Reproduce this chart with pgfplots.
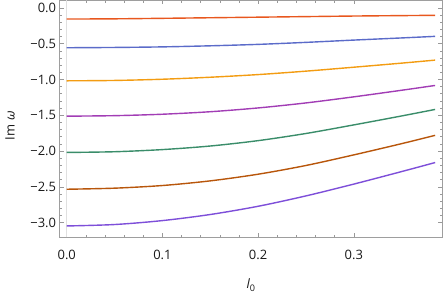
\documentclass[border=0pt]{standalone}
\usepackage{fontspec}
\setmainfont{Open Sans}
\usepackage{pgfplots}
\usepackage{pgfplotstable}
\pgfplotsset{compat=1.18}
\definecolor{cA}{HTML}{E8571E}
\definecolor{cB}{HTML}{5B6BC9}
\definecolor{cC}{HTML}{F39C12}
\definecolor{cD}{HTML}{A23DB5}
\definecolor{cE}{HTML}{3A8D6A}
\definecolor{cF}{HTML}{B8560B}
\definecolor{cG}{HTML}{7E4FD9}
\pgfplotstableread{
x      a       b       c       d       e       f       g
0.000 -0.156  -0.557  -1.019  -1.513  -2.020  -2.534  -3.047
0.050 -0.153  -0.553  -1.014  -1.506  -2.010  -2.519  -3.027
0.100 -0.146  -0.545  -0.997  -1.486  -1.980  -2.482  -2.972
0.150 -0.138  -0.530  -0.969  -1.451  -1.930  -2.417  -2.887
0.200 -0.130  -0.510  -0.932  -1.398  -1.855  -2.324  -2.772
0.250 -0.122  -0.482  -0.884  -1.328  -1.755  -2.202  -2.627
0.300 -0.114  -0.450  -0.829  -1.243  -1.635  -2.054  -2.462
0.350 -0.108  -0.420  -0.772  -1.151  -1.510  -1.897  -2.287
0.385 -0.104  -0.398  -0.730  -1.084  -1.419  -1.781  -2.161
}\datatable
\begin{document}
\begin{tikzpicture}
\begin{axis}[
  scale only axis, width=382.5bp, height=237bp,
  xmin=-0.0075, xmax=0.3927, ymin=-3.205, ymax=0.11,
  axis line style={draw=black!38, line width=0.7bp},
  tick style={black!40, line width=0.6bp},
  major tick length=4bp, minor tick length=2.5bp,
  tick align=inside,
  xtick={0,0.1,0.2,0.3}, xticklabels={0.0,0.1,0.2,0.3},
  minor x tick num=4,
  ytick={-3,-2.5,-2,-1.5,-1,-0.5,0},
  yticklabels={−3.0,−2.5,−2.0,−1.5,−1.0,−0.5,0.0},
  minor y tick num=4,
  extra x ticks={0}, extra x tick labels={},
  extra x tick style={grid=major, major grid style={black!12, line width=0.6bp}, major tick length=0pt},
  ticklabel style={font=\fontsize{13}{15}\selectfont, text=black!90},
  xticklabel style={yshift=-9bp},
  xlabel={{\itshape l}\textsubscript{0}},
  ylabel={Im {\itshape ω}},
  label style={font=\fontsize{13}{15}\selectfont, text=black!90},
  xlabel style={at={(axis description cs:0.5,0)}, anchor=center, yshift=-48bp},
  ylabel style={at={(axis description cs:-0.1294,0.47)}, anchor=center},
  every axis plot/.style={line width=1.4bp, smooth, no markers},
]
\addplot[cA] table[x=x,y=a]{\datatable};
\addplot[cB] table[x=x,y=b]{\datatable};
\addplot[cC] table[x=x,y=c]{\datatable};
\addplot[cD] table[x=x,y=d]{\datatable};
\addplot[cE] table[x=x,y=e]{\datatable};
\addplot[cF] table[x=x,y=f]{\datatable};
\addplot[cG] table[x=x,y=g]{\datatable};
\end{axis}
\pgfresetboundingbox
\path[use as bounding box] (-59.5bp,-70bp) rectangle (383bp,237bp);
\end{tikzpicture}
\end{document}
